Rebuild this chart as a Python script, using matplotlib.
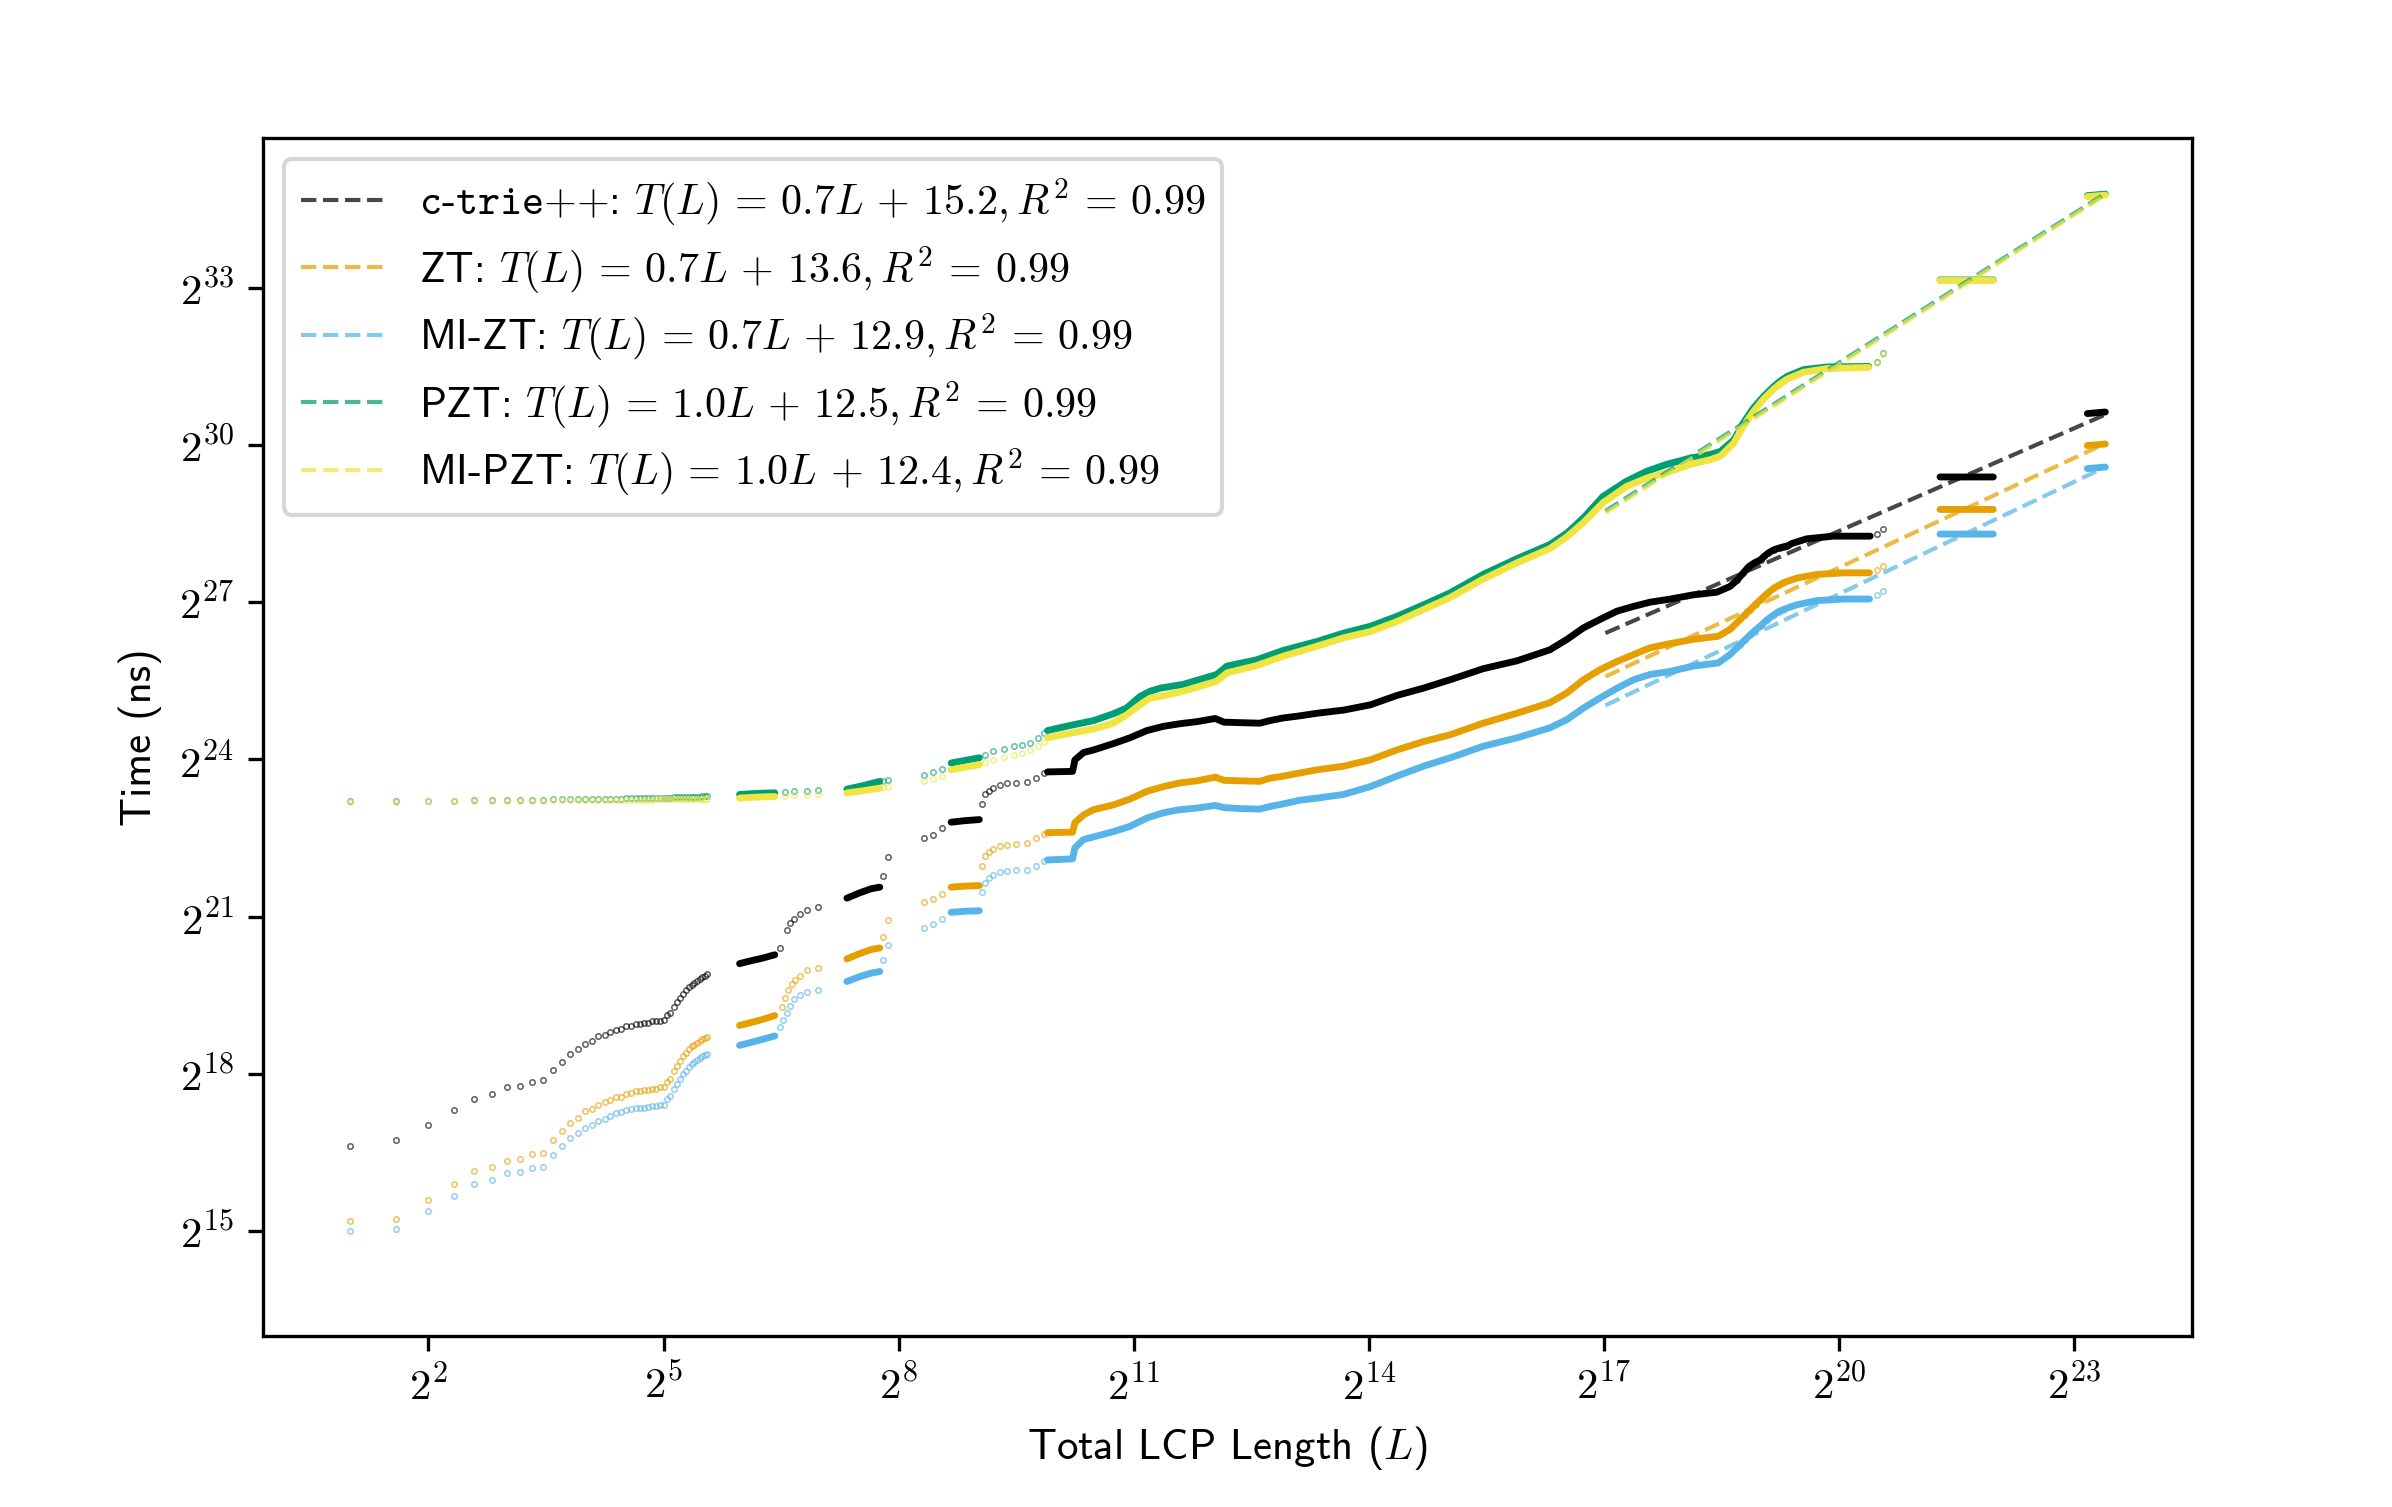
import numpy as np
import matplotlib
matplotlib.use("Agg")
import matplotlib.pyplot as plt
from matplotlib.ticker import FuncFormatter, NullLocator

plt.rcParams["font.family"] = "cmss10"
plt.rcParams["mathtext.fontset"] = "cm"
plt.rcParams["axes.formatter.use_mathtext"] = True
plt.rcParams["font.size"] = 10.3

nan = np.nan

# first block: every total LCP length L = 2..47
small_L = [2, 3, 4, 5, 6, 7, 8, 9, 10, 11, 12, 13, 14, 15, 16, 17, 18, 19, 20, 21,
           22, 23, 24, 25, 26, 27, 28, 29, 30, 31, 32, 33, 34, 35, 36, 37, 38, 39, 40, 41,
           42, 43, 44, 45, 46, 47]

# log2(time in ns) for the first block
ctrie_small = [16.62, 16.73, 17.02, 17.30, 17.52, 17.62, 17.74, 17.76, 17.85, 17.88,
               18.07, 18.23, 18.38, 18.47, 18.57, 18.63, 18.71, 18.74, 18.80, 18.84,
               18.86, 18.91, 18.91, 18.95, 18.95, 18.97, 18.97, 19.00, 19.01, 19.01,
               19.02, 19.12, 19.16, 19.28, 19.36, 19.44, 19.52, 19.59, 19.65, 19.69,
               19.73, 19.77, 19.80, 19.84, 19.86, 19.90]
zt_small = [15.19, 15.22, 15.59, 15.90, 16.15, 16.22, 16.34, 16.38, 16.46, 16.48,
            16.73, 16.91, 17.06, 17.16, 17.28, 17.33, 17.40, 17.46, 17.50, 17.55,
            17.56, 17.62, 17.64, 17.66, 17.66, 17.69, 17.69, 17.70, 17.71, 17.74,
            17.74, 17.85, 17.90, 18.06, 18.15, 18.25, 18.33, 18.39, 18.47, 18.52,
            18.55, 18.59, 18.63, 18.66, 18.68, 18.70]
mizt_small = [14.99, 15.03, 15.38, 15.67, 15.90, 15.97, 16.10, 16.13, 16.20, 16.22,
              16.45, 16.62, 16.77, 16.87, 16.97, 17.02, 17.10, 17.14, 17.19, 17.24,
              17.26, 17.30, 17.32, 17.34, 17.35, 17.35, 17.37, 17.38, 17.39, 17.40,
              17.40, 17.51, 17.57, 17.71, 17.81, 17.90, 18.00, 18.06, 18.13, 18.18,
              18.22, 18.27, 18.30, 18.33, 18.35, 18.37]
pzt_small = [23.20, 23.20, 23.21, 23.21, 23.22, 23.22, 23.22, 23.22, 23.22, 23.22,
             23.24, 23.24, 23.24, 23.24, 23.24, 23.24, 23.24, 23.25, 23.25, 23.25,
             23.25, 23.26, 23.26, 23.26, 23.26, 23.26, 23.26, 23.26, 23.27, 23.27,
             23.27, 23.27, 23.27, 23.28, 23.28, 23.28, 23.28, 23.28, 23.29, 23.29,
             23.29, 23.29, 23.29, 23.30, 23.30, 23.30]
mipzt_small = [23.19, 23.19, 23.20, 23.20, 23.21, 23.21, 23.21, 23.21, 23.21, 23.21,
               23.22, 23.22, 23.22, 23.22, 23.22, 23.22, 23.22, 23.23, 23.23, 23.23,
               23.23, 23.23, 23.23, 23.23, 23.23, 23.23, 23.23, 23.23, 23.24, 23.24,
               23.24, 23.24, 23.24, 23.24, 23.24, 23.24, 23.24, 23.24, 23.25, 23.25,
               23.25, 23.25, 23.25, 23.25, 23.25, 23.25]

# remaining runs, log2(L) vs log2(time); isolated points ("dots") and dense runs ("line", nan = gap)
ctrie_dot_x = [6.49, 6.57, 6.62, 6.66, 6.74, 6.83, 6.97, 7.80, 7.86, 8.33, 8.44, 8.56,
               9.06, 9.10, 9.15, 9.21, 9.30, 9.38, 9.50, 9.64, 9.75, 9.85,
               18.70, 18.78, 18.85, 18.92, 19.00, 19.05, 19.10, 19.17, 19.25, 19.30, 19.34,
               20.49, 20.56]
ctrie_dot_y = [20.40, 20.75, 20.87, 20.95, 21.05, 21.13, 21.18, 21.77, 22.13, 22.50, 22.56, 22.68,
               23.15, 23.33, 23.40, 23.46, 23.51, 23.54, 23.55, 23.56, 23.65, 23.74,
               27.42, 27.56, 27.68, 27.75, 27.81, 27.88, 27.94, 28.00, 28.04, 28.06, 28.07,
               28.31, 28.40]
ctrie_line_x = [5.97, 6.10, 6.25, 6.42, nan, 7.34, 7.50, 7.65, 7.76, nan, 8.67, 8.85, 9.03, nan,
                9.90, 10.22, 10.25, 10.36, 10.49, 10.74, 10.95, 11.17, 11.38, 11.59,
                11.81, 12.04, 12.15, 12.36, 12.61, 12.74, 12.91, 13.12, 13.34, 13.68,
                14.02, 14.36, 14.70, 15.04, 15.46, 15.89, 16.31, 16.53, 16.74, 16.95,
                17.17, 17.38, 17.59, 17.85, 18.14, 18.44, 18.61, 18.70, 18.78, 18.85,
                18.92, 19.00, 19.05, 19.10, 19.17, 19.25, 19.30, 19.34,
                19.40, 19.59, 19.93, 20.40, nan, 21.29, 21.97, nan, 23.17, 23.40]
ctrie_line_y = [20.10, 20.15, 20.20, 20.27, nan, 21.35, 21.45, 21.53, 21.56, nan, 22.80, 22.83, 22.85, nan,
                23.76, 23.77, 23.99, 24.13, 24.18, 24.30, 24.41, 24.55, 24.63, 24.68,
                24.72, 24.78, 24.71, 24.70, 24.69, 24.74, 24.79, 24.83, 24.88, 24.94,
                25.04, 25.22, 25.36, 25.52, 25.73, 25.88, 26.09, 26.29, 26.51, 26.67,
                26.83, 26.92, 27.00, 27.06, 27.14, 27.19, 27.30, 27.42, 27.56, 27.68,
                27.75, 27.81, 27.88, 27.94, 28.00, 28.04, 28.06, 28.07,
                28.12, 28.21, 28.26, 28.26, nan, 29.39, 29.39, nan, 30.60, 30.63]

zt_dot_x = [6.51, 6.55, 6.59, 6.64, 6.68, 6.74, 6.83, 6.97, 7.80, 7.86, 8.33, 8.44, 8.56,
            9.06, 9.10, 9.15, 9.21, 9.30, 9.38, 9.50, 9.64, 9.75, 9.85,
            18.74, 18.80, 18.87, 18.93, 19.00, 19.08, 19.17, 19.23, 19.29, 20.49, 20.56]
zt_dot_y = [19.28, 19.45, 19.60, 19.72, 19.79, 19.86, 19.98, 20.02, 20.60, 20.94, 21.27, 21.33, 21.43,
            21.96, 22.15, 22.23, 22.29, 22.34, 22.37, 22.39, 22.40, 22.49, 22.58,
            26.67, 26.76, 26.86, 26.95, 27.05, 27.16, 27.27, 27.32, 27.37, 27.61, 27.70]
zt_line_x = [5.97, 6.10, 6.25, 6.42, nan, 7.34, 7.50, 7.65, 7.76, nan, 8.67, 8.85, 9.03, nan,
             9.90, 10.22, 10.25, 10.36, 10.49, 10.74, 10.95, 11.17, 11.38, 11.59,
             11.81, 12.04, 12.15, 12.36, 12.61, 12.74, 12.91, 13.12, 13.34, 13.68,
             14.02, 14.36, 14.70, 15.04, 15.46, 15.89, 16.31, 16.53, 16.74, 16.95,
             17.17, 17.38, 17.59, 17.85, 18.14, 18.46, 18.61, 18.74, 18.80, 18.87,
             18.93, 19.00, 19.08, 19.17, 19.23, 19.29,
             19.46, 19.72, 20.06, 20.39, nan, 21.29, 21.97, nan, 23.17, 23.40]
zt_line_y = [18.92, 18.97, 19.03, 19.11, nan, 20.19, 20.29, 20.37, 20.40, nan, 21.56, 21.58, 21.59, nan,
             22.60, 22.61, 22.79, 22.94, 23.04, 23.13, 23.24, 23.39, 23.48, 23.55,
             23.59, 23.66, 23.60, 23.59, 23.58, 23.64, 23.68, 23.74, 23.80, 23.87,
             23.99, 24.18, 24.34, 24.47, 24.69, 24.88, 25.08, 25.27, 25.52, 25.71,
             25.87, 26.00, 26.13, 26.21, 26.29, 26.35, 26.48, 26.67, 26.76, 26.86,
             26.95, 27.05, 27.16, 27.27, 27.32, 27.37,
             27.46, 27.53, 27.56, 27.56, nan, 28.77, 28.77, nan, 29.99, 30.02]

mizt_dot_x = [6.49, 6.53, 6.57, 6.62, 6.66, 6.74, 6.83, 6.97, 7.80, 7.86, 8.33, 8.44, 8.56,
              9.06, 9.10, 9.15, 9.21, 9.30, 9.38, 9.50, 9.64, 9.75, 9.85,
              18.74, 18.80, 18.87, 18.93, 19.00, 19.08, 19.17, 19.23, 19.29, 20.49, 20.56]
mizt_dot_y = [18.90, 19.03, 19.16, 19.30, 19.42, 19.51, 19.55, 19.59, 20.17, 20.46, 20.79, 20.86, 20.95,
              21.46, 21.64, 21.73, 21.80, 21.84, 21.86, 21.88, 21.89, 21.97, 22.05,
              26.19, 26.28, 26.38, 26.46, 26.55, 26.66, 26.76, 26.82, 26.86, 27.13, 27.21]
mizt_line_x = [5.97, 6.10, 6.25, 6.42, nan, 7.34, 7.50, 7.65, 7.76, nan, 8.67, 8.85, 9.03, nan,
               9.90, 10.22, 10.25, 10.36, 10.49, 10.74, 10.95, 11.17, 11.38, 11.59,
               11.81, 12.04, 12.15, 12.36, 12.61, 12.74, 12.91, 13.12, 13.34, 13.68,
               14.02, 14.36, 14.70, 15.04, 15.46, 15.89, 16.31, 16.53, 16.74, 16.95,
               17.17, 17.38, 17.59, 17.85, 18.14, 18.46, 18.61, 18.74, 18.80, 18.87,
               18.93, 19.00, 19.08, 19.17, 19.23, 19.29,
               19.46, 19.72, 20.06, 20.39, nan, 21.29, 21.97, nan, 23.17, 23.40]
mizt_line_y = [18.54, 18.59, 18.65, 18.72, nan, 19.76, 19.85, 19.92, 19.95, nan, 21.08, 21.10, 21.11, nan,
               22.08, 22.10, 22.31, 22.47, 22.52, 22.62, 22.72, 22.88, 22.98, 23.04,
               23.07, 23.12, 23.08, 23.06, 23.05, 23.10, 23.15, 23.22, 23.26, 23.33,
               23.48, 23.68, 23.87, 24.03, 24.25, 24.41, 24.60, 24.76, 24.98, 25.17,
               25.36, 25.52, 25.62, 25.68, 25.78, 25.84, 26.00, 26.19, 26.28, 26.38,
               26.46, 26.55, 26.66, 26.76, 26.82, 26.86,
               26.95, 27.03, 27.06, 27.06, nan, 28.30, 28.30, nan, 29.55, 29.58]

pzt_dot_x = [6.55, 6.66, 6.83, 6.97, 7.80, 7.86, 8.33, 8.44, 8.56,
             9.10, 9.21, 9.34, 9.47, 9.58, 9.68, 9.78, 9.85, 19.25, 19.30, 20.49, 20.56]
pzt_dot_y = [23.38, 23.39, 23.40, 23.41, 23.59, 23.60, 23.71, 23.75, 23.82,
             24.08, 24.15, 24.20, 24.25, 24.28, 24.31, 24.40, 24.50, 31.22, 31.27, 31.59, 31.75]
pzt_line_x = [5.97, 6.20, 6.42, nan, 7.34, 7.55, 7.76, nan, 8.67, 8.85, 9.03, nan,
              9.90, 10.20, 10.49, 10.74, 10.91, 11.08, 11.21, 11.34, 11.63, 12.06,
              12.19, 12.57, 12.91, 13.34, 13.68, 14.02, 14.36, 14.70, 15.04, 15.46,
              15.89, 16.31, 16.53, 16.74, 16.99, 17.29, 17.55, 17.80, 18.10, 18.36,
              18.49, 18.66, 18.78, 18.91, 19.04, 19.17, 19.25, 19.30,
              19.34, 19.55, 19.85, 20.38, nan, 21.29, 21.97, nan, 23.17, 23.40]
pzt_line_y = [23.33, 23.35, 23.36, nan, 23.43, 23.50, 23.58, nan, 23.93, 23.98, 24.03, nan,
              24.55, 24.65, 24.74, 24.87, 24.98, 25.20, 25.30, 25.36, 25.43, 25.62,
              25.78, 25.90, 26.08, 26.25, 26.41, 26.54, 26.73, 26.95, 27.18, 27.53,
              27.83, 28.10, 28.32, 28.61, 29.02, 29.31, 29.50, 29.63, 29.75, 29.82,
              29.88, 30.10, 30.42, 30.71, 30.93, 31.12, 31.22, 31.27,
              31.31, 31.44, 31.49, 31.50, nan, 33.15, 33.15, nan, 34.76, 34.79]

mipzt_dot_x = pzt_dot_x
mipzt_dot_y = [23.30, 23.31, 23.32, 23.33, 23.47, 23.48, 23.59, 23.62, 23.69,
               23.95, 23.99, 24.04, 24.09, 24.13, 24.17, 24.26, 24.34, 31.17, 31.22, 31.57, 31.73]
mipzt_line_x = pzt_line_x
mipzt_line_y = [23.26, 23.28, 23.29, nan, 23.36, 23.40, 23.45, nan, 23.80, 23.85, 23.90, nan,
                24.41, 24.50, 24.58, 24.69, 24.85, 25.04, 25.17, 25.20, 25.30, 25.49,
                25.65, 25.79, 25.97, 26.16, 26.32, 26.44, 26.63, 26.86, 27.09, 27.44,
                27.75, 28.02, 28.25, 28.52, 28.90, 29.21, 29.37, 29.47, 29.63, 29.72,
                29.79, 30.04, 30.36, 30.64, 30.88, 31.07, 31.17, 31.22,
                31.26, 31.39, 31.46, 31.48, nan, 33.14, 33.14, nan, 34.74, 34.77]

# fitted lines as drawn, log2 units, from L = 2^17
fit_x = [17.02, 23.40]
ctrie_fit = [26.41, 30.58]
zt_fit = [25.58, 30.03]
mizt_fit = [25.03, 29.58]
pzt_fit = [28.74, 34.80]
mipzt_fit = [28.70, 34.77]

labels = [r"$\mathtt{c\text{-}trie{+}{+}}$: $T(L) \,=\, 0.7L \,+\, 15.2, R^2 \,=\, 0.99$",
          r"ZT: $T(L) \,=\, 0.7L \,+\, 13.6, R^2 \,=\, 0.99$",
          r"MI-ZT: $T(L) \,=\, 0.7L \,+\, 12.9, R^2 \,=\, 0.99$",
          r"PZT: $T(L) \,=\, 1.0L \,+\, 12.5, R^2 \,=\, 0.99$",
          r"MI-PZT: $T(L) \,=\, 1.0L \,+\, 12.4, R^2 \,=\, 0.99$"]
colors = ["black", "#E69F00", "#56B4E9", "#009E73", "#F0E442"]

series = [
    (ctrie_small, ctrie_dot_x, ctrie_dot_y, ctrie_line_x, ctrie_line_y, ctrie_fit),
    (zt_small, zt_dot_x, zt_dot_y, zt_line_x, zt_line_y, zt_fit),
    (mizt_small, mizt_dot_x, mizt_dot_y, mizt_line_x, mizt_line_y, mizt_fit),
    (pzt_small, pzt_dot_x, pzt_dot_y, pzt_line_x, pzt_line_y, pzt_fit),
    (mipzt_small, mipzt_dot_x, mipzt_dot_y, mipzt_line_x, mipzt_line_y, mipzt_fit),
]

fig = plt.figure(figsize=(2392 / 299, 1507.4 / 299), dpi=299)
ax = fig.add_axes([0.1098, 0.1137, 0.9162 - 0.1098, 0.908 - 0.1137])
ax.set_xscale("log", base=2)
ax.set_yscale("log", base=2)

dot_style = dict(linestyle="none", marker="o", ms=1.3, mfc="none", mew=0.38, alpha=0.62)

for (small, dx, dy, lx, ly, fit), c in zip(series, colors):
    ax.plot(small_L, 2.0 ** np.array(small), color=c, **dot_style)
    ax.plot(2.0 ** np.array(dx), 2.0 ** np.array(dy), color=c, **dot_style)
    ax.plot(2.0 ** np.array(lx), 2.0 ** np.array(ly), color=c, lw=1.65,
            solid_capstyle="round", solid_joinstyle="round")

handles = []
for (small, dx, dy, lx, ly, fit), c, lab in zip(series, colors, labels):
    h, = ax.plot(2.0 ** np.array(fit_x), 2.0 ** np.array(fit), "--", color=c,
                 lw=1.0, alpha=0.72, label=lab)
    handles.append(h)

ax.set_xlim(2 ** -0.116, 2 ** 24.50)
ax.set_ylim(2 ** 13.0, 2 ** 35.855)

ax.set_xticks([2.0 ** e for e in [2, 5, 8, 11, 14, 17, 20, 23]])
ax.set_yticks([2.0 ** e for e in [15, 18, 21, 24, 27, 30, 33]])
pow2 = FuncFormatter(lambda v, p: r"$2^{%d}$" % round(np.log2(v)))
ax.xaxis.set_major_formatter(pow2)
ax.yaxis.set_major_formatter(pow2)
ax.xaxis.set_minor_locator(NullLocator())
ax.yaxis.set_minor_locator(NullLocator())

ax.set_xlabel(r"Total LCP Length ($L$)")
ax.set_ylabel("Time (ns)")
ax.legend(handles=handles, loc="upper left", labelspacing=0.38, fontsize=10.15)

fig.savefig("out.png", dpi=299)
